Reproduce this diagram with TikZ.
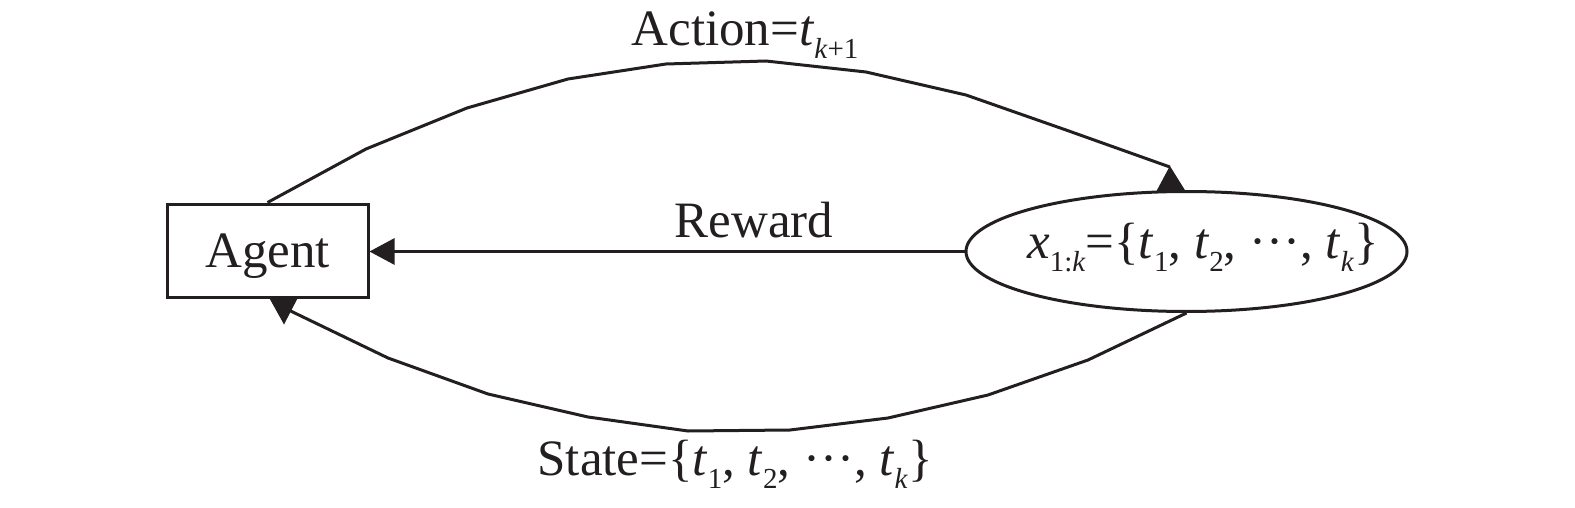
\documentclass[tikz,border=0pt]{standalone}
\usepackage{fontspec}
\setmainfont{Liberation Serif}
\usetikzlibrary{arrows.meta,shapes.geometric,calc}
\definecolor{ink}{RGB}{35,31,32}
\newcommand{\sbs}[1]{\raisebox{-6.5pt}{\fontsize{14.5pt}{15pt}\selectfont #1}}
\begin{document}
\begin{tikzpicture}[x=0.5pt,y=-0.5pt,
  every node/.style={text=ink},
  mainfont/.style={font=\fontsize{25.5pt}{30pt}\selectfont},
  agentbox/.style={mainfont,draw=ink,line width=1.5pt,rectangle,minimum width=100.5pt,minimum height=46.5pt,inner sep=0pt,text depth=0pt},
  envell/.style={draw=ink,line width=1.5pt,ellipse,minimum width=220.5pt,minimum height=60pt,inner sep=0pt},
  lbl/.style={mainfont,anchor=base,inner sep=0pt},
  flow/.style={draw=ink,line width=1.5pt,line join=miter},
  rtip/.style={-{Triangle[length=12.5pt,width=13pt]}},
  headfill/.style={fill=ink,draw=none}]
\useasboundingbox (0,0) rectangle (1575,508);

\node[agentbox] (agent) at (267.5,250.5) {Agent};
\node[envell] (env) at (1186.5,251.5) {};
\node[lbl] (envtxt) at (1203,258) {\textit{x}\sbs{1:\textit{k}}=\{\textit{t}\sbs{1}, \textit{t}\sbs{2}, ···, \textit{t}\sbs{\textit{k}}\}};

% Reward
\draw[flow,rtip] (env.west) -- (env.west -| agent.east);
\node[lbl] (reward) at (754,237) {Reward};

% Action (top)
\coordinate (topend) at ($(env.north)+(-16.6,-23)$);
\draw[flow] (agent.north) -- (366,149) -- (467,108) -- (568,79) -- (666,64) -- (766,61) -- (866,72) -- (966,95) -- (1066,130) -- (topend);
\fill[headfill] ($(env.north)+(-30,1)$) -- ($(env.north)+(-1,1)$) -- ($(env.north)+(-16.6,-24)$) -- cycle;
\node[lbl] (action) at (745,46) {Action=\textit{t}\sbs{\textit{k}+1}};

% State (bottom)
\coordinate (botend) at ($(agent.south)+(20,11)$);
\draw[flow] (env.south) -- (1088,360) -- (988,395) -- (888,418) -- (790,430) -- (688,431) -- (588,417) -- (488,394) -- (388,358) -- (botend);
\fill[headfill] ($(agent.south)+(1.5,-1)$) -- ($(agent.south)+(30.5,-1)$) -- ($(agent.south)+(16.5,26)$) -- cycle;
\node[lbl] (state) at (735,475) {State=\{\textit{t}\sbs{1}, \textit{t}\sbs{2}, ···, \textit{t}\sbs{\textit{k}}\}};
\end{tikzpicture}
\end{document}
